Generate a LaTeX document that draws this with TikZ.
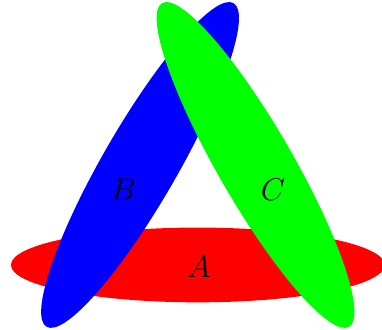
\documentclass[tikz,border=0pt]{standalone}
\usepackage{xcolor}
\usepackage{tikz}
\usetikzlibrary{calc}
\definecolor{setAFill}{RGB}{255,0,0}
\definecolor{setBFill}{RGB}{0,0,255}
\definecolor{setCFill}{RGB}{0,255,0}
\tikzset{
  setshape/.style={x radius=3cm, y radius=0.6cm},
  setlabel/.style={
    font=\fontsize{15.5}{18}\selectfont,
    inner sep=0pt
  }
}

\begin{document}
\begin{tikzpicture}
  \useasboundingbox (-3.175,-2.114) rectangle (2.957,3.183);
  \coordinate (centerA) at (-90:1.07);
  \coordinate (centerB) at (150:1.07);
  \coordinate (centerC) at (30:1.07);

  \fill[setAFill] (centerA) ellipse [setshape];
  \fill[setBFill, rotate around={60:(centerB)}] (centerB) ellipse [setshape];
  \fill[setCFill, rotate around={-60:(centerC)}] (centerC) ellipse [setshape];

  \node[setlabel] (labelA) at (0.02,-1.1) {$A$};
  \node[setlabel] (labelB) at (-1.2,0.13) {$B$};
  \node[setlabel] (labelC) at (1.21,0.13) {$C$};
\end{tikzpicture}
\end{document}
